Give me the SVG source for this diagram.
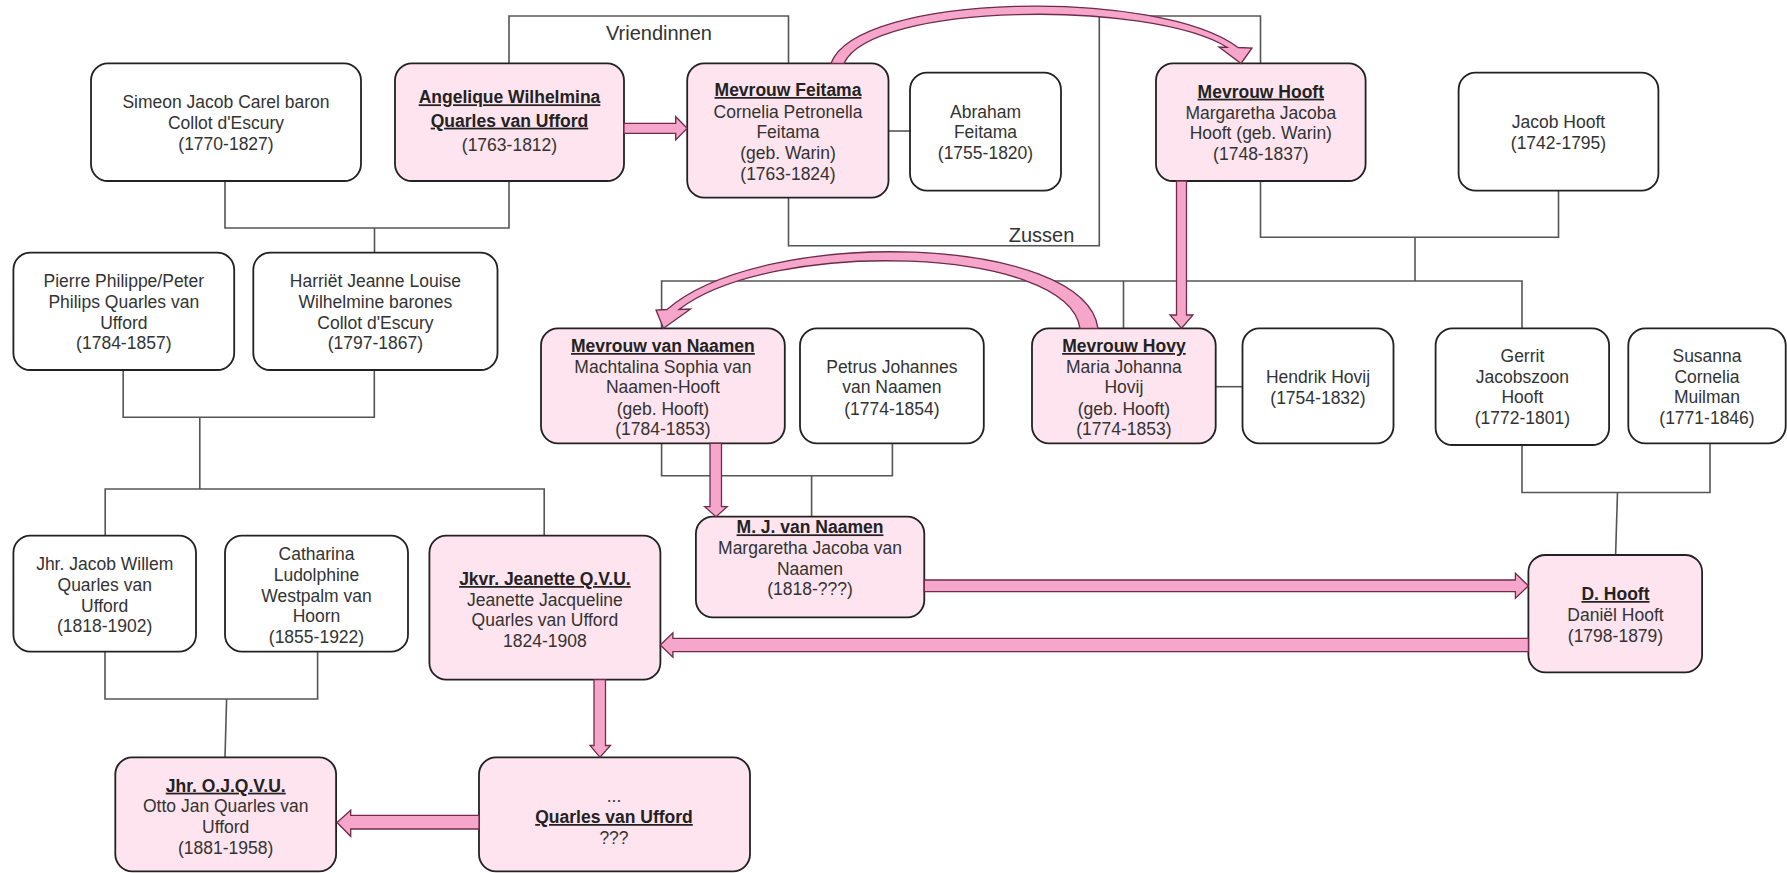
<svg xmlns="http://www.w3.org/2000/svg" width="1787" height="873" viewBox="0 0 1787 873">
<style>
.box{fill:#ffffff;stroke:#222;stroke-width:1.8}
.pink{fill:#fde4ee}
.t{font-family:"Liberation Sans",Arial,sans-serif;font-size:17.5px;fill:#333;text-anchor:middle}
.b{font-weight:bold;fill:#222;text-decoration:underline}
.lbl{font-family:"Liberation Sans",Arial,sans-serif;font-size:20px;fill:#333;text-anchor:middle}
.conn{fill:none;stroke:#555;stroke-width:1.6}
.arr{fill:#f6a6ca;stroke:#6e2b4a;stroke-width:1.3;stroke-linejoin:miter}
</style>
<rect x="0" y="0" width="1787" height="873" fill="#ffffff"/>

<g id="connectors">
  <path class="conn" d="M509,63 V16 H788.5 V63"/>
  <path class="conn" d="M788.5,197.7 V245.7 H1099.3 V16 H1260.5 V63"/>
  <path class="conn" d="M225,181 V228 H509 V181"/>
  <path class="conn" d="M374.5,228 V252.7"/>
  <path class="conn" d="M888.5,131 H910"/>
  <path class="conn" d="M1260.5,181 V237.3 H1558.5 V190.7"/>
  <path class="conn" d="M1415,237.3 V281"/>
  <path class="conn" d="M661.6,328.3 V281 H1522 V328.3"/>
  <path class="conn" d="M1123.5,281 V328.3"/>
  <path class="conn" d="M1215.7,386.7 H1242.5"/>
  <path class="conn" d="M123.2,370 V417.3 H374.3 V370"/>
  <path class="conn" d="M199.8,417.3 V489"/>
  <path class="conn" d="M105.2,535.7 V489 H544.2 V535.7"/>
  <path class="conn" d="M661.6,443.3 V475.7 H892.4 V443.3"/>
  <path class="conn" d="M811.6,475.7 V516.7"/>
  <path class="conn" d="M1522,445 V492.5 H1710 V443.3"/>
  <path class="conn" d="M1617.5,492.5 L1615.6,555"/>
  <path class="conn" d="M105,651.7 V699 H317.6 V651.7"/>
  <path class="conn" d="M226.6,699 L225,757.3"/>
  <text class="lbl" x="659" y="39.5">Vriendinnen</text>
  <text class="lbl" x="1041.5" y="242">Zussen</text>
</g>

<g id="n-simeon">
  <rect class="box" x="91" y="63.3" width="270" height="117.7" rx="17"/>
  <text class="t"><tspan x="226" y="107.7">Simeon Jacob Carel baron</tspan><tspan x="226" y="128.7">Collot d'Escury</tspan><tspan x="226" y="150">(1770-1827)</tspan></text>
</g>
<g id="n-angelique">
  <rect class="box pink" x="395" y="63.3" width="229" height="117.7" rx="17"/>
  <text class="t"><tspan class="b" x="509.5" y="103.3">Angelique Wilhelmina</tspan><tspan class="b" x="509.5" y="126.7">Quarles van Ufford</tspan><tspan x="509.5" y="151">(1763-1812)</tspan></text>
</g>
<g id="n-feitama">
  <rect class="box pink" x="687.2" y="63.3" width="201.3" height="134.4" rx="17"/>
  <text class="t"><tspan class="b" x="788" y="96">Mevrouw Feitama</tspan><tspan x="788" y="117.7">Cornelia Petronella</tspan><tspan x="788" y="138.3">Feitama</tspan><tspan x="788" y="159.3">(geb. Warin)</tspan><tspan x="788" y="180">(1763-1824)</tspan></text>
</g>
<g id="n-abraham">
  <rect class="box" x="910" y="72.7" width="151" height="118" rx="17"/>
  <text class="t"><tspan x="985.5" y="117.7">Abraham</tspan><tspan x="985.5" y="138.3">Feitama</tspan><tspan x="985.5" y="159.3">(1755-1820)</tspan></text>
</g>
<g id="n-mevrouw-hooft">
  <rect class="box pink" x="1156" y="63.3" width="209.6" height="117.7" rx="17"/>
  <text class="t"><tspan class="b" x="1260.8" y="97.7">Mevrouw Hooft</tspan><tspan x="1260.8" y="119.3">Margaretha Jacoba</tspan><tspan x="1260.8" y="139.3">Hooft (geb. Warin)</tspan><tspan x="1260.8" y="160">(1748-1837)</tspan></text>
</g>
<g id="n-jacob-hooft">
  <rect class="box" x="1458.6" y="72.7" width="199.8" height="118" rx="17"/>
  <text class="t"><tspan x="1558.5" y="127.7">Jacob Hooft</tspan><tspan x="1558.5" y="148.7">(1742-1795)</tspan></text>
</g>
<g id="n-pierre">
  <rect class="box" x="13.4" y="252.7" width="220.8" height="117.3" rx="17"/>
  <text class="t"><tspan x="123.8" y="286.7">Pierre Philippe/Peter</tspan><tspan x="123.8" y="307.7">Philips Quarles van</tspan><tspan x="123.8" y="328.7">Ufford</tspan><tspan x="123.8" y="349.3">(1784-1857)</tspan></text>
</g>
<g id="n-harriet">
  <rect class="box" x="253.3" y="252.7" width="244.2" height="117.3" rx="17"/>
  <text class="t"><tspan x="375.4" y="286.7">Harriët Jeanne Louise</tspan><tspan x="375.4" y="307.7">Wilhelmine barones</tspan><tspan x="375.4" y="328.7">Collot d'Escury</tspan><tspan x="375.4" y="349.3">(1797-1867)</tspan></text>
</g>
<g id="n-van-naamen">
  <rect class="box pink" x="541" y="328.3" width="243.8" height="115" rx="17"/>
  <text class="t"><tspan class="b" x="662.9" y="352">Mevrouw van Naamen</tspan><tspan x="662.9" y="372.7">Machtalina Sophia van</tspan><tspan x="662.9" y="393.3">Naamen-Hooft</tspan><tspan x="662.9" y="415">(geb. Hooft)</tspan><tspan x="662.9" y="435.3">(1784-1853)</tspan></text>
</g>
<g id="n-petrus">
  <rect class="box" x="800" y="328.3" width="183.8" height="115" rx="17"/>
  <text class="t"><tspan x="891.9" y="372.7">Petrus Johannes</tspan><tspan x="891.9" y="393.3">van Naamen</tspan><tspan x="891.9" y="415">(1774-1854)</tspan></text>
</g>
<g id="n-hovy">
  <rect class="box pink" x="1032" y="328.3" width="183.7" height="115" rx="17"/>
  <text class="t"><tspan class="b" x="1123.9" y="352">Mevrouw Hovy</tspan><tspan x="1123.9" y="372.7">Maria Johanna</tspan><tspan x="1123.9" y="393.3">Hovij</tspan><tspan x="1123.9" y="415">(geb. Hooft)</tspan><tspan x="1123.9" y="435.3">(1774-1853)</tspan></text>
</g>
<g id="n-hendrik">
  <rect class="box" x="1242.5" y="328.3" width="151" height="115" rx="17"/>
  <text class="t"><tspan x="1318" y="382.7">Hendrik Hovij</tspan><tspan x="1318" y="403.7">(1754-1832)</tspan></text>
</g>
<g id="n-gerrit">
  <rect class="box" x="1435.6" y="328.3" width="173.5" height="116.7" rx="17"/>
  <text class="t"><tspan x="1522.4" y="362">Gerrit</tspan><tspan x="1522.4" y="382.7">Jacobszoon</tspan><tspan x="1522.4" y="403.3">Hooft</tspan><tspan x="1522.4" y="424.3">(1772-1801)</tspan></text>
</g>
<g id="n-susanna">
  <rect class="box" x="1628.3" y="328.3" width="157.4" height="115" rx="17"/>
  <text class="t"><tspan x="1707" y="362">Susanna</tspan><tspan x="1707" y="382.7">Cornelia</tspan><tspan x="1707" y="403.3">Muilman</tspan><tspan x="1707" y="424.3">(1771-1846)</tspan></text>
</g>
<g id="n-mj-van-naamen">
  <rect class="box pink" x="695.9" y="516.7" width="228.4" height="100.6" rx="17"/>
  <text class="t"><tspan class="b" x="810" y="533.3">M. J. van Naamen</tspan><tspan x="810" y="554.3">Margaretha Jacoba van</tspan><tspan x="810" y="575">Naamen</tspan><tspan x="810" y="595.3">(1818-???)</tspan></text>
</g>
<g id="n-d-hooft">
  <rect class="box pink" x="1528.4" y="555" width="173.7" height="117.3" rx="17"/>
  <text class="t"><tspan class="b" x="1615.5" y="600">D. Hooft</tspan><tspan x="1615.5" y="621">Daniël Hooft</tspan><tspan x="1615.5" y="641.7">(1798-1879)</tspan></text>
</g>
<g id="n-jacob-willem">
  <rect class="box" x="13.4" y="535.7" width="182.6" height="116" rx="17"/>
  <text class="t"><tspan x="104.7" y="570">Jhr. Jacob Willem</tspan><tspan x="104.7" y="591">Quarles van</tspan><tspan x="104.7" y="611.7">Ufford</tspan><tspan x="104.7" y="632">(1818-1902)</tspan></text>
</g>
<g id="n-catharina">
  <rect class="box" x="225" y="535.7" width="183" height="116" rx="17"/>
  <text class="t"><tspan x="316.5" y="560">Catharina</tspan><tspan x="316.5" y="581">Ludolphine</tspan><tspan x="316.5" y="601.7">Westpalm van</tspan><tspan x="316.5" y="622">Hoorn</tspan><tspan x="316.5" y="642.7">(1855-1922)</tspan></text>
</g>
<g id="n-jeanette">
  <rect class="box pink" x="429.4" y="535.7" width="231" height="144" rx="17"/>
  <text class="t"><tspan class="b" x="544.9" y="585">Jkvr. Jeanette Q.V.U.</tspan><tspan x="544.9" y="605.7">Jeanette Jacqueline</tspan><tspan x="544.9" y="626">Quarles van Ufford</tspan><tspan x="544.9" y="646.7">1824-1908</tspan></text>
</g>
<g id="n-jhr-ojqvu">
  <rect class="box pink" x="115.3" y="757.3" width="220.8" height="114" rx="17"/>
  <text class="t"><tspan class="b" x="225.7" y="791.7">Jhr. O.J.Q.V.U.</tspan><tspan x="225.7" y="812.3">Otto Jan Quarles van</tspan><tspan x="225.7" y="833">Ufford</tspan><tspan x="225.7" y="854">(1881-1958)</tspan></text>
</g>
<g id="n-quarles">
  <rect class="box pink" x="479" y="757.3" width="271" height="114" rx="17"/>
  <text class="t"><tspan x="614" y="802">...</tspan><tspan class="b" x="614" y="823">Quarles van Ufford</tspan><tspan x="614" y="844">???</tspan></text>
</g>

<g id="arrows">
  <path class="arr" d="M624,123.3 H675.7 V116.7 L687.2,128.3 L675.7,139.9 V133.3 H624 Z"/>
  <path class="arr" d="M1176.5,181 V315 H1170 L1181.5,328.3 L1193,315 H1186.5 V181 Z"/>
  <path class="arr" d="M710,443.3 V506.7 H704.7 L716,516.7 L727.2,506.7 H721.5 V443.3 Z"/>
  <path class="arr" d="M924.3,580 H1515.4 V573.3 L1528.4,585.8 L1515.4,598.3 V591.7 H924.3 Z"/>
  <path class="arr" d="M1528.4,638.3 H672.9 V632.7 L660.3,645 L672.9,657.3 V651.7 H1528.4 Z"/>
  <path class="arr" d="M594,679.7 V745.5 H590 L600,757.3 L610.5,745.5 H605.5 V679.7 Z"/>
  <path class="arr" d="M479,815.3 H350.7 V810.3 L337,822.5 L350.7,836.3 V829 H479 Z"/>
  <path class="arr" d="M831,63.3 C858,-8 1160,-12 1238,47.5 L1252,48 L1241,63.5 L1219,47 L1227,47.3 C1150,0 872,2 844,63.3 Z"/>
  <path class="arr" d="M1098,328.3 C1085,235 765,225 667,309.5 L656,310 L663.5,328.3 L690.5,309 L679,309.5 C772,238 1068,246 1080,328.3 Z"/>
</g>
</svg>
